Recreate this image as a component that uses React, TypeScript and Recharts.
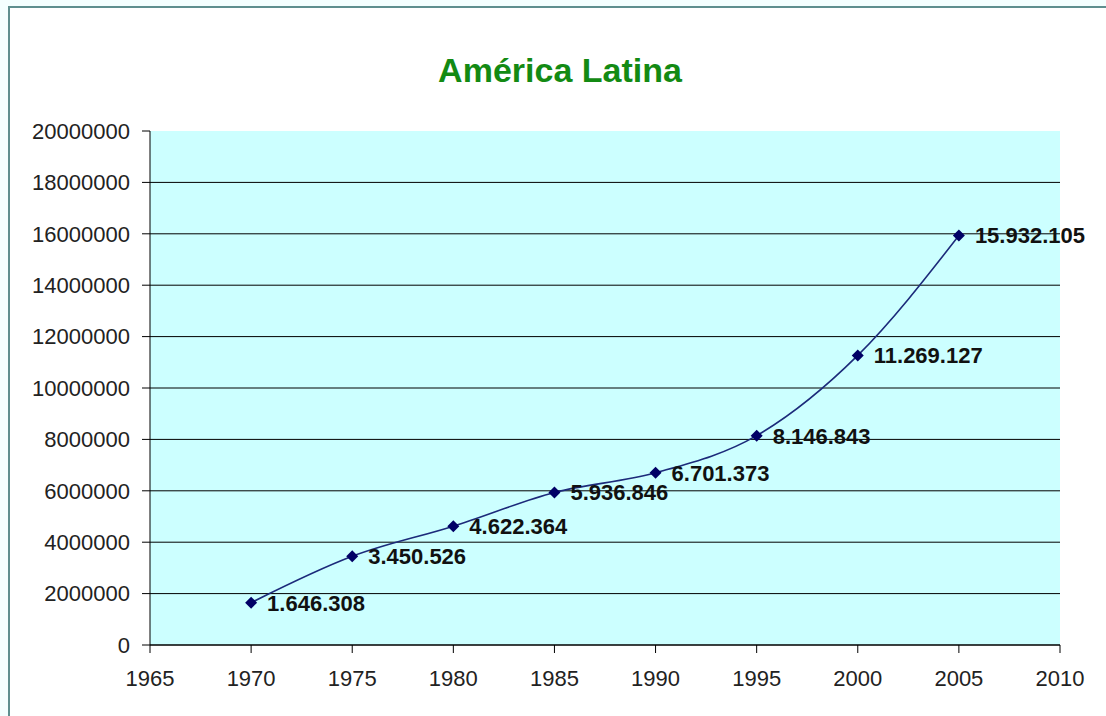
import React from "react";
import { LineChart, Line, XAxis, YAxis, CartesianGrid, LabelList } from "recharts";

const years = [1970, 1975, 1980, 1985, 1990, 1995, 2000, 2005];
const values = [1646308, 3450526, 4622364, 5936846, 6701373, 8146843, 11269127, 15932105];
const xTicks = [1965, 1970, 1975, 1980, 1985, 1990, 1995, 2000, 2005, 2010];
const yTicks = [0, 2000000, 4000000, 6000000, 8000000, 10000000, 12000000, 14000000, 16000000, 18000000, 20000000];

const data = years.map((year, i) => ({ year, value: values[i] }));

const FONT = '"Liberation Sans", Arial, sans-serif';

// thousands with dots, like the original spreadsheet
const fmt = (v: number) => String(v).replace(/\B(?=(\d{3})+(?!\d))/g, ".");

const Diamond = (props: any) => {
  const { cx, cy, index } = props;
  if (cx == null || cy == null) return null;
  const s = 6;
  return (
    <polygon
      key={`d-${index}`}
      points={`${cx},${cy - s} ${cx + s},${cy} ${cx},${cy + s} ${cx - s},${cy}`}
      fill="#000066"
    />
  );
};

const ValueLabel = (props: any) => {
  const { x, y, value } = props;
  return (
    <text
      x={x + 16}
      y={y}
      dy="0.36em"
      fontFamily={FONT}
      fontSize={22}
      fontWeight="bold"
      fill="#111"
    >
      {fmt(value)}
    </text>
  );
};

export default function App() {
  return (
    <div
      style={{
        position: "absolute",
        left: 0,
        top: 0,
        width: 1106,
        height: 716,
        overflow: "hidden",
        background: "#f4ffff",
      }}
    >
      <div
        style={{
          position: "absolute",
          left: 8,
          top: 6,
          width: 1120,
          height: 740,
          border: "2px solid #5f8f8f",
          background: "#ffffff",
        }}
      />
      <div
        style={{
          position: "absolute",
          left: 0,
          top: 51,
          width: 1120,
          textAlign: "center",
          fontFamily: FONT,
          fontWeight: "bold",
          fontSize: 34,
          color: "#138a13",
        }}
      >
        América Latina
      </div>
      <div style={{ position: "absolute", left: 0, top: 0 }}>
        <LineChart
          width={1106}
          height={716}
          data={data}
          margin={{ top: 131, right: 46, bottom: 41, left: 10 }}
        >
          <CartesianGrid
            vertical={false}
            horizontalValues={yTicks.slice(0, -1)}
            stroke="#000"
            strokeOpacity={1}
            fill="#ccffff"
            fillOpacity={1}
          />
          <XAxis
            dataKey="year"
            type="number"
            domain={[1965, 2010]}
            ticks={xTicks}
            height={30}
            stroke="#000"
            tickSize={8}
            tickMargin={17}
            tick={{ fill: "#222", fontSize: 22, fontFamily: FONT }}
          />
          <YAxis
            type="number"
            domain={[0, 20000000]}
            ticks={yTicks}
            width={140}
            stroke="#000"
            tickSize={8}
            tickMargin={12}
            interval={0}
            tick={{ fill: "#222", fontSize: 22, fontFamily: FONT }}
          />
          <Line
            dataKey="value"
            type="monotone"
            stroke="#1c2a7a"
            strokeWidth={1.6}
            dot={Diamond}
            activeDot={false}
            isAnimationActive={false}
          >
            <LabelList dataKey="value" content={ValueLabel} />
          </Line>
        </LineChart>
      </div>
    </div>
  );
}
